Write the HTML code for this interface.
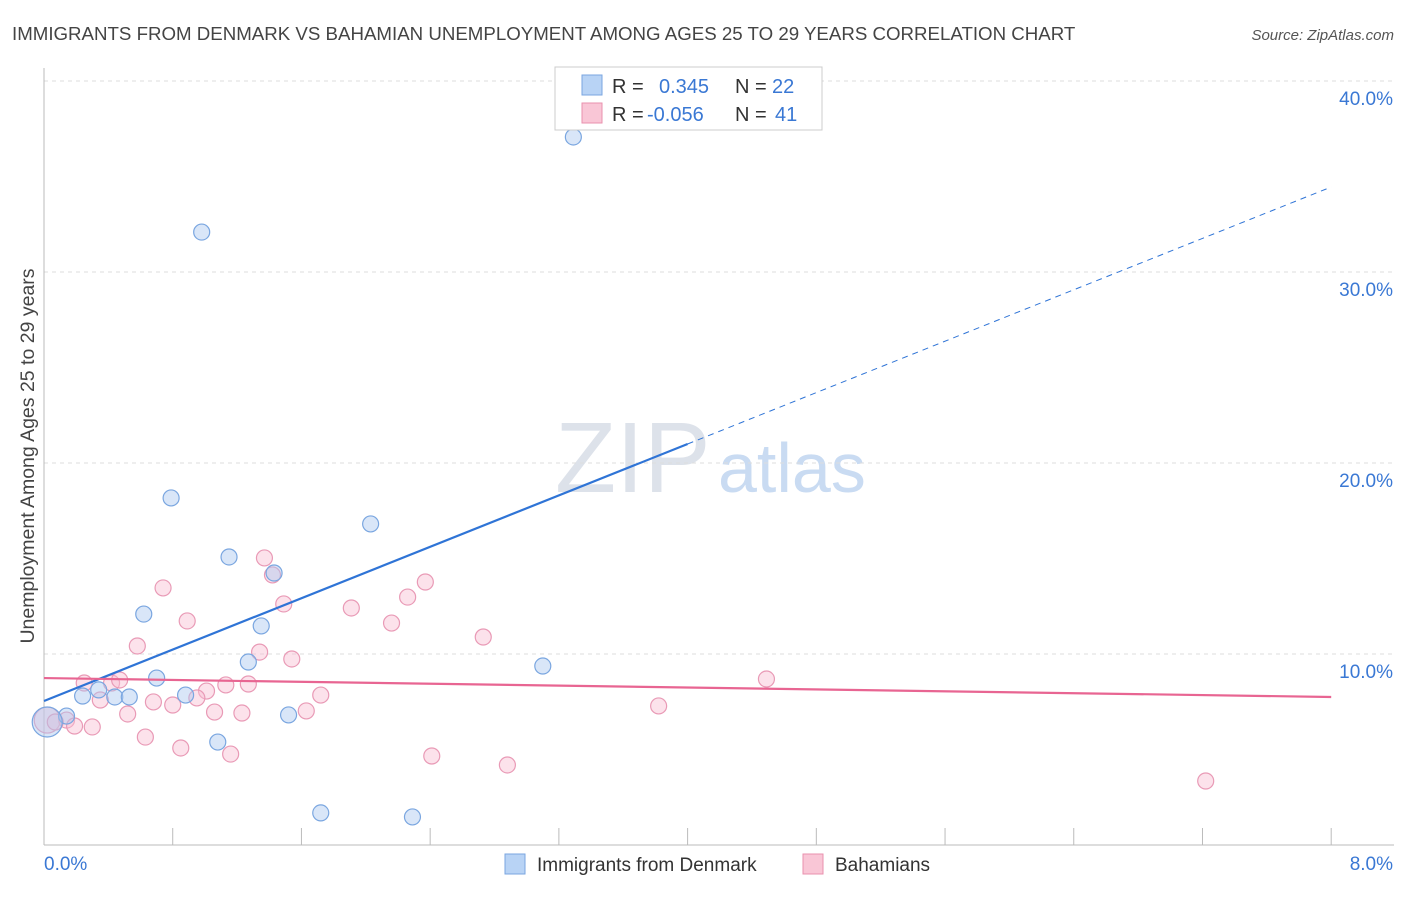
<!DOCTYPE html>
<html><head><meta charset="utf-8"><style>
body{margin:0;background:#fff;font-family:"Liberation Sans",sans-serif;}
svg text{font-family:"Liberation Sans",sans-serif;}
</style></head><body>
<svg id="c" width="1406" height="892" xmlns="http://www.w3.org/2000/svg">
<text x="12" y="40" font-size="18.7" fill="#444">IMMIGRANTS FROM DENMARK VS BAHAMIAN UNEMPLOYMENT AMONG AGES 25 TO 29 YEARS CORRELATION CHART</text>
<text x="1394" y="40" font-size="15" fill="#555" font-style="italic" text-anchor="end">Source: ZipAtlas.com</text>
<text x="555" y="492" font-size="100" fill="#dde2ea" font-family="Liberation Serif">ZIP</text>
<text x="718" y="492" font-size="70" fill="#c9dbf2">atlas</text>
<text transform="translate(34,456) rotate(-90)" font-size="19.5" fill="#444" text-anchor="middle">Unemployment Among Ages 25 to 29 years</text>
<g id="grid"></g><g id="marks"></g>
<g>
<rect x="555" y="67" width="267" height="63" fill="#fff" stroke="#ccc"/>
<rect x="582" y="75" width="20" height="20" fill="#b8d3f5" stroke="#7aa6e0"/>
<rect x="582" y="103" width="20" height="20" fill="#f9c6d6" stroke="#e990ae"/>
<text x="612" y="93" font-size="20" fill="#333">R =</text><text x="659" y="93" font-size="20" fill="#3a78d4">0.345</text>
<text x="735" y="93" font-size="20" fill="#333">N =</text><text x="772" y="93" font-size="20" fill="#3a78d4">22</text>
<text x="612" y="121" font-size="20" fill="#333">R =</text><text x="647" y="121" font-size="20" fill="#3a78d4">-0.056</text>
<text x="735" y="121" font-size="20" fill="#333">N =</text><text x="775" y="121" font-size="20" fill="#3a78d4">41</text>
</g>
<g>
<rect x="505" y="854" width="20" height="20" fill="#b8d3f5" stroke="#7aa6e0"/>
<text x="537" y="871" font-size="19" fill="#333">Immigrants from Denmark</text>
<rect x="803" y="854" width="20" height="20" fill="#f9c6d6" stroke="#e990ae"/>
<text x="835" y="871" font-size="19" fill="#333">Bahamians</text>
</g>
</svg>
<script>
const blueX=[3.29,0.98,0.79,2.03,1.15,1.43,0.62,1.35,0.70,1.27,3.10,0.24,0.34,0.44,0.53,0.88,0.14,1.52,1.08,1.72,2.29,0.02];
const blueY=[37.07,32.09,18.17,16.81,15.08,14.24,12.09,11.47,8.74,9.58,9.37,7.80,8.12,7.75,7.75,7.85,6.75,6.81,5.39,1.68,1.47,6.44];
const pinkX=[1.37,1.42,0.74,2.37,2.26,1.49,1.91,0.89,2.16,2.73,0.58,1.34,1.54,4.49,0.25,0.42,0.47,1.27,1.13,1.01,0.95,0.35,1.72,0.68,0.80,1.06,1.23,0.52,1.63,3.82,0.14,0.19,0.30,0.63,0.85,1.16,2.41,2.88,7.22,0.02,0.07];
const pinkY=[15.03,14.14,13.46,13.77,12.98,12.62,12.41,11.73,11.62,10.89,10.42,10.10,9.74,8.69,8.48,8.48,8.64,8.43,8.38,8.06,7.70,7.59,7.85,7.49,7.33,6.96,6.91,6.86,7.02,7.28,6.54,6.23,6.18,5.65,5.08,4.76,4.66,4.19,3.35,6.54,6.44];
const yTicks=[10,20,30,40];
const yTickLabels=["10.0%","20.0%","30.0%","40.0%"];
const blueTrend=[7.54,34.45];
const pinkTrend=[8.74,7.75];
const NS="http://www.w3.org/2000/svg";
const X=v=>44+v*160.9, Y=v=>845-v*19.1;
function mk(t,a,p){const e=document.createElementNS(NS,t);for(const k in a)e.setAttribute(k,a[k]);p.appendChild(e);return e;}
const g=document.getElementById('grid'), m=document.getElementById('marks');
yTicks.forEach((t,i)=>{
 const l=mk('line',{x1:44,x2:1394,y1:Y(t),y2:Y(t),stroke:'#ddd','stroke-dasharray':'4,4'},g);
 
 
 const tx=mk('text',{x:1393,y:Y(t)+24,'font-size':19,fill:'#3a78d4','text-anchor':'end'},g);
 tx.textContent=yTickLabels[i];
 
 
});
const ax=mk('line',{x1:44,x2:1394,y1:845,y2:845,stroke:'#bbb'},g);


const ay=mk('line',{x1:44,x2:44,y1:68,y2:845,stroke:'#bbb'},g);


for(let i=1;i<=10;i++){const tk=mk('line',{x1:X(i*0.8),x2:X(i*0.8),y1:828,y2:845,stroke:'#bbb'},g);
 
 }
[[0,'0.0%','start',44],[8,'8.0%','end',1393]].forEach(d=>{const t=mk('text',{x:d[3],y:870,'font-size':19,fill:'#3a78d4','text-anchor':d[2]},g);t.textContent=d[1];
 
 });
pinkX.forEach((x,i)=>{const c=mk('circle',{cx:X(x),cy:Y(pinkY[i]),r:i==39?13:8,fill:'rgba(249,190,210,0.45)',stroke:'#e99ab6','stroke-width':1.2},m);
 
 });
blueX.forEach((x,i)=>{const c=mk('circle',{cx:X(x),cy:Y(blueY[i]),r:i==21?15:8,fill:'rgba(170,200,240,0.45)',stroke:'#7aa6e0','stroke-width':1.2},m);
 
 });
const by=x=>blueTrend[0]+(blueTrend[1]-blueTrend[0])*x/8;
const b1=mk('line',{x1:X(0),y1:Y(by(0)),x2:X(4),y2:Y(by(4)),stroke:'#2f74d6','stroke-width':2.2},m);


const b2=mk('line',{x1:X(4),y1:Y(by(4)),x2:X(8),y2:Y(by(8)),stroke:'#2f74d6','stroke-width':1,'stroke-dasharray':'6,5'},m);


const p1=mk('line',{x1:X(0),y1:Y(pinkTrend[0]),x2:X(8),y2:Y(pinkTrend[1]),stroke:'#e86592','stroke-width':2.2},m);


</script>
</body></html>
